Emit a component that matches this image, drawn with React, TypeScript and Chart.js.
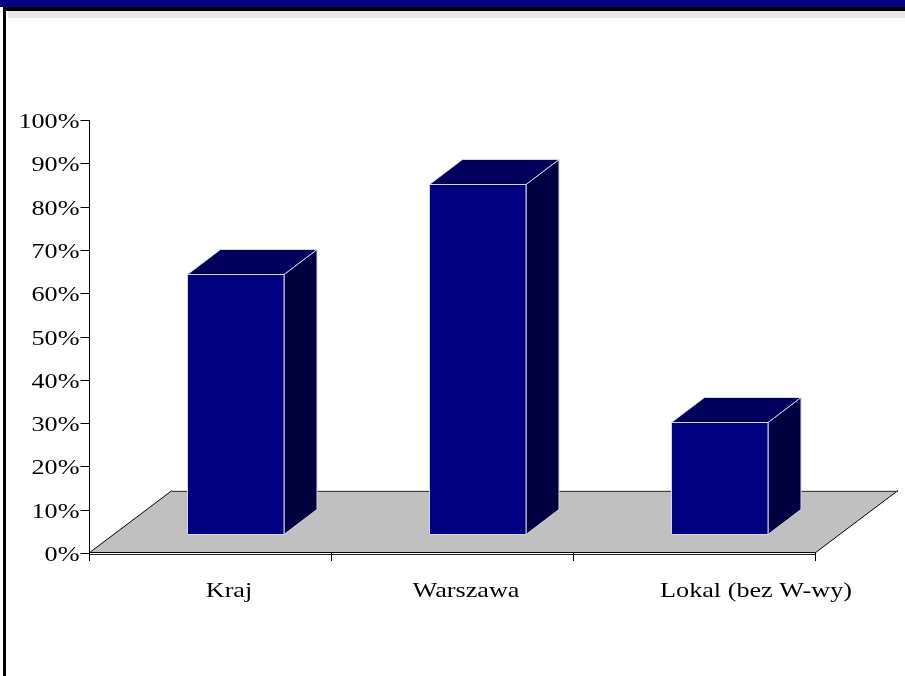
import React, { useEffect, useRef } from "react";
import { Chart, registerables } from "chart.js";

Chart.register(...registerables);

const categories = ["Kraj", "Warszawa", "Lokal (bez W-wy)"];
const values = [60, 81, 26];
const yMin = 0;
const yMax = 100;
const yStep = 10;

const W = 905;
const H = 676;
const FLOOR_DX = 83;
const FLOOR_DY = 62.5;
const BAR_FRONT = 0.3;
const BAR_DEPTH = 0.4;
const LABEL_SHIFT = [19, 14, 62];
const FONT = "22px 'Liberation Serif', 'Times New Roman', serif";
const STRETCH = 1.19;

function drawText(ctx: CanvasRenderingContext2D, text: string, x: number, y: number, align: "left" | "right" | "center") {
  ctx.save();
  ctx.font = FONT;
  ctx.fillStyle = "#000";
  ctx.textBaseline = "alphabetic";
  ctx.textAlign = "left";
  const w = ctx.measureText(text).width * STRETCH;
  let left = x;
  if (align === "right") left = x - w;
  else if (align === "center") left = x - w / 2;
  ctx.translate(left, y);
  ctx.scale(STRETCH, 1);
  ctx.fillText(text, 0, 0);
  ctx.restore();
}

const chart3d = {
  id: "chart3d",
  beforeDraw(chart: any) {
    const ctx: CanvasRenderingContext2D = chart.ctx;
    const { left, right, top, bottom } = chart.chartArea;
    ctx.save();
    ctx.fillStyle = "#fff";
    ctx.fillRect(0, 0, W, H);
    // header
    ctx.fillStyle = "#000080";
    ctx.fillRect(0, 0, W, 7);
    ctx.fillStyle = "#000";
    ctx.fillRect(3, 7, W - 3, 4);
    ctx.fillStyle = "#E8E8E8";
    ctx.fillRect(8, 11, W - 8, 7);
    ctx.fillStyle = "#000";
    ctx.fillRect(3, 7, 3, H - 7);

    // floor
    ctx.beginPath();
    ctx.moveTo(left, bottom);
    ctx.lineTo(right, bottom);
    ctx.lineTo(right + FLOOR_DX, bottom - FLOOR_DY);
    ctx.lineTo(left + FLOOR_DX, bottom - FLOOR_DY);
    ctx.closePath();
    ctx.fillStyle = "#C0C0C0";
    ctx.fill();
    ctx.lineWidth = 1;
    ctx.strokeStyle = "#000";
    ctx.beginPath();
    ctx.moveTo(left, bottom);
    ctx.lineTo(left + FLOOR_DX, bottom - FLOOR_DY);
    ctx.stroke();
    ctx.beginPath();
    ctx.moveTo(right, bottom);
    ctx.lineTo(right + FLOOR_DX, bottom - FLOOR_DY);
    ctx.stroke();
    ctx.strokeStyle = "#404040";
    ctx.beginPath();
    ctx.moveTo(left + FLOOR_DX, Math.round(bottom - FLOOR_DY) + 0.5);
    ctx.lineTo(right + FLOOR_DX, Math.round(bottom - FLOOR_DY) + 0.5);
    ctx.stroke();

    // y axis
    const ys = chart.scales.y;
    const ax = Math.round(left) + 0.5;
    ctx.strokeStyle = "#000";
    ctx.beginPath();
    ctx.moveTo(ax, top);
    ctx.lineTo(ax, bottom + 8);
    ctx.stroke();
    ys.ticks.forEach((t: any) => {
      const y = Math.round(ys.getPixelForValue(t.value)) + 0.5;
      ctx.beginPath();
      ctx.moveTo(ax - 9, y);
      ctx.lineTo(ax, y);
      ctx.stroke();
      drawText(ctx, t.value + "%", ax - 10, y + 7.5, "right");
    });

    // x axis (double line)
    ctx.strokeStyle = "#000";
    const by = Math.round(bottom);
    ctx.beginPath();
    ctx.moveTo(left, by - 0.5);
    ctx.lineTo(right, by - 0.5);
    ctx.stroke();
    ctx.strokeStyle = "#202020";
    ctx.beginPath();
    ctx.moveTo(left, by + 1.5);
    ctx.lineTo(right, by + 1.5);
    ctx.stroke();
    const xs = chart.scales.x;
    const n = categories.length;
    const cw = (right - left) / n;
    ctx.strokeStyle = "#000";
    for (let i = 0; i <= n; i++) {
      const x = Math.round(left + i * cw) + 0.5;
      ctx.beginPath();
      ctx.moveTo(x, by);
      ctx.lineTo(x, by + 8);
      ctx.stroke();
    }
    categories.forEach((c, i) => {
      drawText(ctx, c, xs.getPixelForValue(i) + LABEL_SHIFT[i], bottom + 44, "center");
    });
    ctx.restore();
  },
  afterDatasetsDraw(chart: any) {
    const ctx: CanvasRenderingContext2D = chart.ctx;
    const meta = chart.getDatasetMeta(0);
    ctx.save();
    meta.data.forEach((el: any) => {
      const w = el.width;
      const x0 = Math.round(el.x - w / 2 + BAR_FRONT * FLOOR_DX) + 0.5;
      const x1 = Math.round(x0 + w);
      const yb = Math.round(el.base - BAR_FRONT * FLOOR_DY) + 0.5;
      const yt = Math.round(el.y - BAR_FRONT * FLOOR_DY) + 0.5;
      const dx = Math.round(BAR_DEPTH * FLOOR_DX);
      const dy = Math.round(BAR_DEPTH * FLOOR_DY);
      ctx.lineWidth = 1;
      ctx.strokeStyle = "#D4D4E4";
      // side
      ctx.beginPath();
      ctx.moveTo(x1, yt);
      ctx.lineTo(x1 + dx, yt - dy);
      ctx.lineTo(x1 + dx, yb - dy);
      ctx.lineTo(x1, yb);
      ctx.closePath();
      ctx.fillStyle = "#000040";
      ctx.fill();
      ctx.stroke();
      // top
      ctx.beginPath();
      ctx.moveTo(x0, yt);
      ctx.lineTo(x0 + dx, yt - dy);
      ctx.lineTo(x1 + dx, yt - dy);
      ctx.lineTo(x1, yt);
      ctx.closePath();
      ctx.fillStyle = "#00005C";
      ctx.fill();
      ctx.stroke();
      // front
      ctx.beginPath();
      ctx.rect(x0, yt, x1 - x0, yb - yt);
      ctx.fillStyle = "#000080";
      ctx.fill();
      ctx.stroke();
    });
    ctx.restore();
  },
};

export default function App() {
  const ref = useRef<HTMLCanvasElement>(null);
  useEffect(() => {
    if (!ref.current) return;
    const chart = new Chart(ref.current, {
      type: "bar",
      data: {
        labels: categories,
        datasets: [
          {
            data: values,
            backgroundColor: "rgba(0,0,0,0)",
            borderWidth: 0,
            barPercentage: 0.4,
            categoryPercentage: 1,
          },
        ],
      },
      options: {
        animation: false,
        responsive: false,
        devicePixelRatio: 1,
        layout: { padding: { left: 89, right: 90, top: 120, bottom: 123 } },
        plugins: { legend: { display: false }, tooltip: { enabled: false } },
        scales: {
          x: { display: false, offset: true },
          y: { display: false, min: yMin, max: yMax, ticks: { stepSize: yStep } },
        },
      },
      plugins: [chart3d],
    });
    return () => chart.destroy();
  }, []);
  return (
    <div style={{ position: "fixed", left: 0, top: 0, width: W, height: H, background: "#fff" }}>
      <canvas ref={ref} width={W} height={H} style={{ display: "block" }} />
    </div>
  );
}
